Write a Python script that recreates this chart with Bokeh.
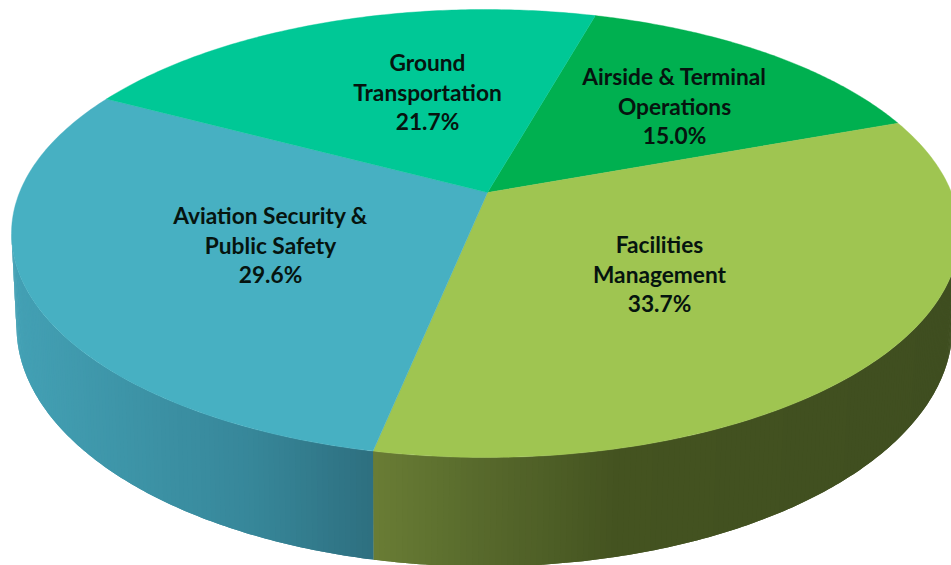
import numpy as np
from bokeh.plotting import figure
from bokeh.models import Range1d, ColumnDataSource
from bokeh.core.properties import value
from bokeh.embed import file_html
from bokeh.resources import INLINE

# Data, clockwise from the start angle
categories = ["Airside & Terminal Operations", "Facilities Management",
              "Aviation Security & Public Safety", "Ground Transportation"]
shares = [15.0, 33.7, 29.6, 21.7]
percent_labels = ["15.0%", "33.7%", "29.6%", "21.7%"]
label_lines = [["Airside & Terminal", "Operations"], ["Facilities", "Management"],
               ["Aviation Security &", "Public Safety"], ["Ground", "Transportation"]]

# Style
top_colors = ["#00B050", "#9FC551", "#47B0C2", "#00C896"]
wall_stops = [
    ([0, 951], ["#008040", "#008040"]),
    ([375, 480, 620, 951], ["#6A7D35", "#586A2C", "#445320", "#3F4E20"]),
    ([16, 130, 250, 372], ["#43A0B4", "#3D94A7", "#37879A", "#2E7080"]),
    ([0, 951], ["#00A070", "#00A070"]),
]
label_centers = [(674, 76), (659, 244), (270, 215), (427, 62)]
LINE_GAP = 29.5
START_DEG = 16.1
TOP = dict(cx=485.0, cy=233.0, a=474.0, b=224.0)
BOTTOM = dict(cx=484.0, cy=326.0, a=468.0, b=240.0)
TILT = -0.183          # the perspective shift of the pie's centre
SHIFT_X = 2.0


def hex_rgb(c):
    return np.array([int(c[i:i + 2], 16) for i in (1, 3, 5)], dtype=float)


def unit(theta):
    """Pie angle (radians, clockwise from the top) to a point on the tilted disc."""
    x0, y0 = np.sin(theta), -np.cos(theta)
    d = 1 + TILT * y0
    return x0 * np.sqrt(1 - TILT ** 2) / d, (y0 + TILT) / d


def on(e, nx, ny):
    return e["cx"] + e["a"] * nx, e["cy"] + e["b"] * ny


p = figure(width=951, height=565, toolbar_location=None, output_backend="svg",
           x_range=Range1d(0, 951), y_range=Range1d(565, 0),
           min_border=0, outline_line_color=None, background_fill_color="white")
p.axis.visible = False
p.grid.visible = False

fractions = np.cumsum([0] + shares) / sum(shares)
edges = np.radians(START_DEG) + fractions * 2 * np.pi

# Side wall: each strip overlaps the next so no seams show
wx, wy, wc = [], [], []
for i in range(len(shares)):
    th = np.linspace(edges[i], edges[i + 1], int(shares[i] * 6) + 2)
    nx, ny = unit(th)
    xs_stop, cs_stop = wall_stops[i]
    rgb = np.array([hex_rgb(c) for c in cs_stop])
    n = len(th)
    for j in range(n - 1):
        if ny[j] < 0 and ny[j + 1] < 0:
            continue
        last = min(j + 2, n - 1)
        idx = list(range(j, last + 1))
        cx_ = np.array([nx[m] for m in idx])
        cy_ = np.maximum(np.array([ny[m] for m in idx]), 0)
        txs, tys = on(TOP, cx_, cy_)
        bxs, bys = on(BOTTOM, cx_, cy_)
        mid = txs[0]
        col = [int(round(np.interp(mid, xs_stop, rgb[:, k]))) for k in range(3)]
        wx.append(list(txs) + list(bxs[::-1]))
        wy.append(list(tys) + list(bys[::-1]))
        wc.append("#%02X%02X%02X" % tuple(col))
p.patches(wx, wy, fill_color=wc, line_color=None)

# Top face
apex = (TOP["cx"] + SHIFT_X, TOP["cy"] + TOP["b"] * TILT)
sx, sy, sc = [], [], []
for i in range(len(shares)):
    th = np.linspace(edges[i], edges[i + 1], 120)
    nx, ny = unit(th)
    ex, ey = on(TOP, nx, ny)
    sx.append([apex[0]] + list(ex))
    sy.append([apex[1]] + list(ey))
    sc.append(top_colors[i])
p.patches(sx, sy, fill_color=sc, line_color=sc, line_width=0.4)

# Labels
tx, ty, tt = [], [], []
for (cx, cy), lines, pct in zip(label_centers, label_lines, percent_labels):
    for k, s in enumerate(lines + [pct]):
        tx.append(cx)
        ty.append(cy + k * LINE_GAP)
        tt.append(s)
p.text(x="x", y="y", text="t", source=ColumnDataSource(dict(x=tx, y=ty, t=tt)),
       text_font=value("Lato"), text_font_style="bold", text_font_size="22.7px",
       text_color="#06140F", text_align="center", text_baseline="middle")

open("out.html", "w").write(file_html(p, INLINE))
